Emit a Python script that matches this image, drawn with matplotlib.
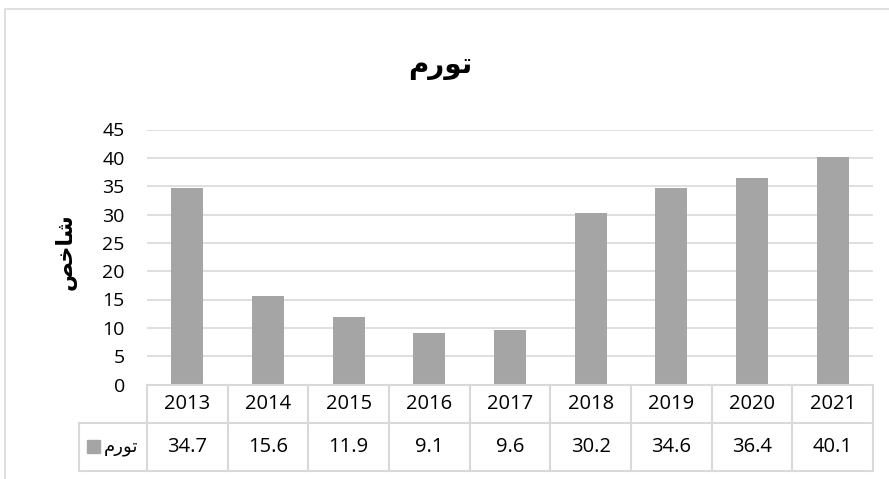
import matplotlib.pyplot as plt
from matplotlib.patches import Rectangle
from matplotlib.lines import Line2D

plt.rcParams['font.family'] = ['Open Sans', 'DejaVu Sans']

# داده ها
years = ['2013', '2014', '2015', '2016', '2017', '2018', '2019', '2020', '2021']
inflation = [34.7, 15.6, 11.9, 9.1, 9.6, 30.2, 34.6, 36.4, 40.1]
value_labels = ['34.7', '15.6', '11.9', '9.1', '9.6', '30.2', '34.6', '36.4', '40.1']
yticks = [0, 5, 10, 15, 20, 25, 30, 35, 40, 45]

# Arabic text in presentation forms, visual order (matplotlib has no shaping)
title_txt = '\uFEE1\uFEAD\uFEEE\uFE97'      # تورم
ylabel_txt = '\uFEBA\uFEA7\uFE8E\uFEB7'     # شاخص

W, H = 889, 479
dpi = 100
fig = plt.figure(figsize=(W / dpi, H / dpi), dpi=dpi)

grid_c = '#D9D9D9'
bar_c = '#A5A5A5'

# chart border
fig.add_artist(Rectangle((5 / W, -0.1), 1.0, 1 - 9 / H + 0.1, transform=fig.transFigure,
                         fill=False, edgecolor=grid_c, lw=1.2))

left, right = 147 / W, 873 / W
bottom, top = 1 - 384.5 / H, 1 - 129.5 / H
ax = fig.add_axes([left, bottom, right - left, top - bottom])

x = list(range(len(years)))
ax.bar(x, inflation, width=0.4, color=bar_c, zorder=2)
ax.set_xlim(-0.5, len(years) - 0.5)
ax.set_ylim(0, 45)
ax.set_yticks(yticks)
ax.set_yticklabels([str(t) for t in yticks], fontsize=14)
ax.tick_params(axis='y', length=0, pad=16)
ax.set_xticks([])
for s in ax.spines.values():
    s.set_visible(False)
ax.grid(axis='y', color=grid_c, lw=1.2, zorder=0)

fig.text(66 / W, 1 - 252 / H, ylabel_txt, rotation=90, ha='center', va='center',
         fontsize=16, fontweight='bold', family='DejaVu Sans')

fig.text(440 / W, 1 - 66 / H, title_txt, ha='center', va='center', fontsize=20,
         fontweight='bold', family='DejaVu Sans')

# data table under the axis
row1_top = 384.5
row2_top = 423
row2_bot = 471
cell_w = (873 - 147) / len(years)

def ln(x0, y0, x1, y1):
    fig.add_artist(Line2D([x0 / W, x1 / W], [1 - y0 / H, 1 - y1 / H],
                          transform=fig.transFigure, color=grid_c, lw=1.5))

ln(147, row1_top, 873, row1_top)
ln(79, row2_top, 873, row2_top)
ln(79, row2_bot, 873, row2_bot)
ln(79, row2_top, 79, row2_bot)
for i in range(len(years) + 1):
    xx = 147 + i * cell_w
    ln(xx, row1_top, xx, row2_bot)

for i, (yr, v) in enumerate(zip(years, value_labels)):
    cx = (147 + (i + 0.5) * cell_w) / W
    fig.text(cx, 1 - (row1_top + row2_top) / 2 / H, yr, ha='center', va='center', fontsize=14.5)
    fig.text(cx, 1 - (row2_top + row2_bot) / 2 / H, v, ha='center', va='center', fontsize=14.5)

# legend key in table
ym = (row2_top + row2_bot) / 2
fig.add_artist(Rectangle((87 / W, 1 - (ym + 6) / H), 13 / W, 13 / H,
                         transform=fig.transFigure, color=bar_c))
fig.text(104 / W, 1 - ym / H, title_txt, ha='left', va='center', fontsize=13,
         family='DejaVu Sans')

fig.savefig('out.png', dpi=dpi)
